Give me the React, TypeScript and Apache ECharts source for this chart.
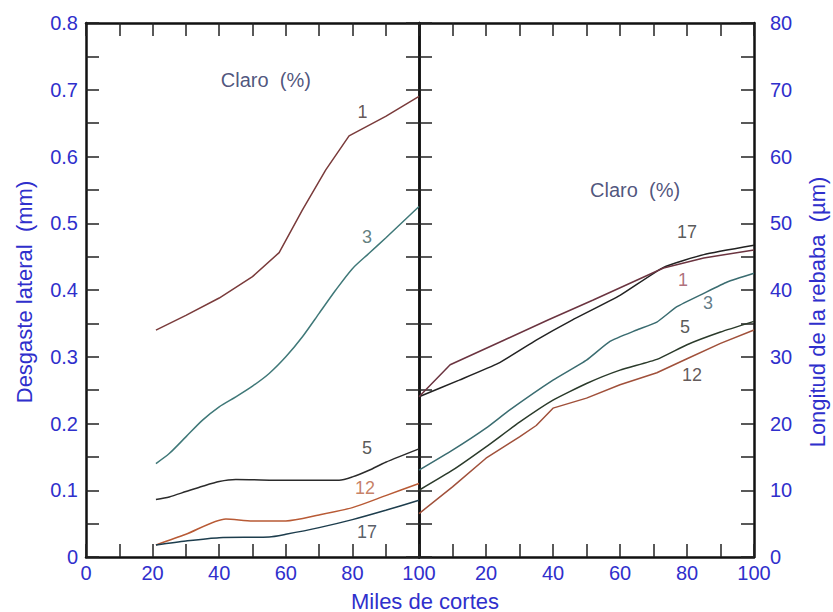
import React, { useEffect, useRef } from "react";
import * as echarts from "echarts";

// Left panel: Desgaste lateral (mm) vs Miles de cortes
const wear1 = [[21, 0.34], [30, 0.362], [40, 0.388], [50, 0.42], [58, 0.456], [65, 0.52], [72, 0.58], [79, 0.631], [90, 0.66], [100, 0.69]];
const wear3 = [[21, 0.14], [25, 0.155], [30, 0.18], [35, 0.205], [40, 0.225], [45, 0.24], [50, 0.256], [55, 0.275], [60, 0.3], [65, 0.33], [70, 0.365], [75, 0.4], [80, 0.432], [85, 0.455], [90, 0.478], [100, 0.525]];
const wear5 = [[21, 0.086], [25, 0.09], [30, 0.098], [35, 0.106], [40, 0.113], [45, 0.116], [60, 0.115], [76, 0.115], [80, 0.12], [85, 0.13], [90, 0.142], [100, 0.162]];
const wear12 = [[21, 0.018], [30, 0.034], [42, 0.057], [50, 0.054], [60, 0.054], [70, 0.063], [80, 0.074], [90, 0.092], [100, 0.11]];
const wear17 = [[21, 0.018], [30, 0.024], [40, 0.029], [55, 0.03], [60, 0.034], [70, 0.044], [80, 0.056], [90, 0.07], [100, 0.085]];

// Right panel: Longitud de la rebaba (µm) vs Miles de cortes
const burr17 = [[0, 24], [12, 26.5], [23.6, 29], [35, 32.5], [45.7, 35.5], [60, 39.2], [73, 43.4], [85, 45.3], [100, 46.7]];
const burr1 = [[0, 24], [9.3, 28.8], [25, 32.4], [38.5, 35.5], [52, 38.5], [73, 43.3], [85, 44.8], [100, 46]];
const burr3 = [[0, 13], [10, 16], [20, 19.3], [27, 22], [40, 26.5], [50, 29.5], [57, 32.3], [65, 34], [71, 35.2], [77, 37.5], [85, 39.5], [92, 41.2], [100, 42.5]];
const burr5 = [[0, 10], [10, 13], [20, 16.5], [30, 20.2], [40, 23.5], [50, 26], [60, 28], [71, 29.6], [80, 31.8], [90, 33.7], [100, 35.3]];
const burr12 = [[0, 6.5], [10, 10.5], [20, 14.8], [30, 18], [35, 19.7], [40, 22.3], [50, 23.8], [60, 25.8], [71, 27.6], [80, 29.7], [90, 32], [100, 34]];

// Curve labels [x, y, text]
const wearLabels = [[83, 0.667, "1"], [84.4, 0.48, "3"], [84.4, 0.163, "5"], [83.8, 0.103, "12"], [84.4, 0.037, "17"], [54, 0.715, "Claro  (%)"]];
const burrLabels = [[80, 48.7, "17"], [78.8, 41.5, "1"], [86.3, 38, "3"], [79.4, 34.5, "5"], [81.5, 27.3, "12"], [64.5, 55, "Claro  (%)"]];
const wearLabelColors = ["#3a2a2a", "#3a5e5e", "#2e2e2e", "#b8603e", "#2e3440", "#1f2a5c"];
const burrLabelColors = ["#2e2e2e", "#9a4a5a", "#3a5a6a", "#2e2e2e", "#3a2e2e", "#1f2a5c"];

const xTicks = [0, 20, 40, 60, 80, 100];

const FONT = "'Liberation Sans', Arial, sans-serif";
const BLUE = "#2f2fcc";

export default function App() {
  const ref = useRef<HTMLDivElement>(null);
  useEffect(() => {
    document.body.style.margin = "0";
    const chart = echarts.init(ref.current!, null, { renderer: "svg" });
    const axisLine = { show: true, onZero: false, lineStyle: { color: "#111", width: 2.5 } };
    const tick = (show: boolean) => ({ show, inside: true, length: 13, lineStyle: { color: "#222", width: 1.5 } });
    const xLab = (hideZero: boolean) => ({
      show: true,
      color: BLUE,
      fontSize: 20,
      fontFamily: FONT,
      margin: 6,
      formatter: (v: number) => (xTicks.includes(v) && !(hideZero && v === 0) ? String(v) : ""),
    });
    const baseX = (grid: number, pos: string, labels: any) => ({
      type: "value",
      gridIndex: grid,
      position: pos,
      min: 0,
      max: 100,
      interval: 10,
      axisLine,
      axisTick: tick(true),
      splitLine: { show: false },
      axisLabel: labels,
    });
    const line = (data: number[][], color: string, xi: number, yi: number, smooth: number) => ({
      type: "line",
      data,
      xAxisIndex: xi,
      yAxisIndex: yi,
      symbol: "none",
      smooth,
      lineStyle: { color, width: 1.5 },
      silent: true,
    });
    const labelSeries = (rows: any[], colors: string[], xi: number, yi: number) => ({
      type: "scatter",
      xAxisIndex: xi,
      yAxisIndex: yi,
      symbolSize: 0,
      silent: true,
      data: rows.map((r, i) => ({
        name: r[2],
        value: [r[0], r[1]],
        label: { color: colors[i], fontSize: r[2].length > 3 ? 20 : 18 },
      })),
      label: { show: true, position: "inside", formatter: "{b}", fontFamily: FONT },
    });

    chart.setOption({
      animation: false,
      grid: [
        { left: 86, top: 23, width: 333, height: 534 },
        { left: 419, top: 23, width: 335, height: 534 },
      ],
      xAxis: [
        baseX(0, "bottom", xLab(false)),
        baseX(0, "top", { show: false }),
        baseX(1, "bottom", xLab(true)),
        baseX(1, "top", { show: false }),
      ],
      yAxis: [
        {
          type: "value", gridIndex: 0, position: "left", min: 0, max: 0.8, interval: 0.05,
          axisLine, axisTick: tick(true), splitLine: { show: false },
          axisLabel: {
            color: BLUE, fontSize: 20, fontFamily: FONT, margin: 8,
            formatter: (v: number) => {
              const k = Math.round(v * 20);
              return k % 2 === 0 ? (k === 0 ? "0" : (k / 20).toFixed(1)) : "";
            },
          },
        },
        {
          type: "value", gridIndex: 0, position: "right", min: 0, max: 0.8, interval: 0.05,
          axisLine, axisTick: tick(true), splitLine: { show: false }, axisLabel: { show: false },
        },
        {
          type: "value", gridIndex: 1, position: "right", min: 0, max: 80, interval: 5,
          axisLine, axisTick: tick(true), splitLine: { show: false },
          axisLabel: {
            color: BLUE, fontSize: 20, fontFamily: FONT, margin: 16,
            formatter: (v: number) => (v % 10 === 0 ? String(v) : ""),
          },
        },
        {
          type: "value", gridIndex: 1, position: "left", min: 0, max: 80, interval: 5,
          axisLine, axisTick: tick(true), splitLine: { show: false }, axisLabel: { show: false },
        },
      ],
      series: [
        line(wear1, "#7a3b3b", 0, 0, 0),
        line(wear3, "#3f7878", 0, 0, 0.25),
        line(wear5, "#2b2b2b", 0, 0, 0.25),
        line(wear12, "#b85a35", 0, 0, 0.25),
        line(wear17, "#1d3d4d", 0, 0, 0.25),
        line(burr17, "#222222", 2, 2, 0.15),
        line(burr1, "#6b3440", 2, 2, 0),
        line(burr3, "#3a6c70", 2, 2, 0.15),
        line(burr5, "#2a3a2a", 2, 2, 0.15),
        line(burr12, "#a0503a", 2, 2, 0),
        labelSeries(wearLabels, wearLabelColors, 0, 0),
        labelSeries(burrLabels, burrLabelColors, 2, 2),
      ],
      graphic: [
        {
          type: "text", x: 425, y: 601,
          style: { text: "Miles de cortes", fill: BLUE, fontSize: 22, fontFamily: FONT, align: "center", verticalAlign: "middle" },
        },
        {
          type: "text", x: 24, y: 292, rotation: Math.PI / 2,
          style: { text: "Desgaste lateral  (mm)", fill: BLUE, fontSize: 22, fontFamily: FONT, align: "center", verticalAlign: "middle" },
        },
        {
          type: "text", x: 817, y: 312, rotation: Math.PI / 2,
          style: { text: "Longitud de la rebaba  (µm)", fill: BLUE, fontSize: 22, fontFamily: FONT, align: "center", verticalAlign: "middle" },
        },
      ],
    });
    return () => chart.dispose();
  }, []);
  return <div ref={ref} style={{ width: 833, height: 612 }} />;
}
